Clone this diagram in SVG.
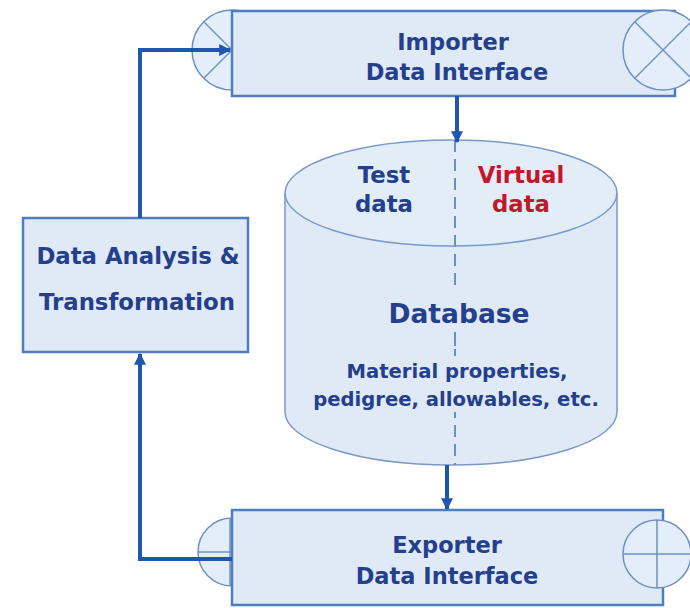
<svg xmlns="http://www.w3.org/2000/svg" width="690" height="608" viewBox="0 0 690 608">
<defs>
<style>
.box{fill:#dfeaf6;stroke:#4f7ec0;stroke-width:2.5}
.port{fill:#e4eefa;stroke:#6f8fc2;stroke-width:1.5}
.pl{stroke:#6f8fc2;stroke-width:1.5;fill:none}
.conn{stroke:#1f56b0;stroke-width:4;fill:none}
.t{font-family:"DejaVu Sans",Verdana,sans-serif;font-weight:bold;fill:#243f8c;text-anchor:middle}
.red{fill:#c4162a}
</style>
<marker id="ah" viewBox="0 0 10 10" refX="9" refY="5" markerWidth="3" markerHeight="3" orient="auto" markerUnits="strokeWidth">
<path d="M0,0 L10,5 L0,10 z" fill="#1f56b0"/>
</marker>
</defs>
<rect width="690" height="608" fill="#ffffff"/>

<g id="analysis">
<rect class="box" x="23" y="218" width="225" height="134"/>
<text class="t" x="138" y="264" font-size="22.8">Data Analysis &amp;</text>
<text class="t" x="137" y="310" font-size="22.8">Transformation</text>
</g>

<g id="importer">
<circle class="port" cx="232" cy="50" r="40"/>
<line class="pl" x1="232" y1="50" x2="204" y2="22"/>
<line class="pl" x1="232" y1="50" x2="204" y2="78"/>
<rect class="box" x="232" y="11" width="443" height="85"/>
<circle class="port" cx="663" cy="50" r="40"/>
<line class="pl" x1="635" y1="22" x2="691" y2="78"/>
<line class="pl" x1="635" y1="78" x2="691" y2="22"/>
<text class="t" x="453" y="50" font-size="22.5">Importer</text>
<text class="t" x="457" y="80" font-size="22.5">Data Interface</text>
</g>

<g id="exporter">
<circle class="port" cx="232" cy="552" r="34"/>
<line class="pl" x1="198" y1="552" x2="266" y2="552"/>
<line class="pl" x1="230" y1="518" x2="230" y2="586" stroke-width="4"/>
<rect class="box" x="232" y="510" width="431" height="95"/>
<circle class="port" cx="657" cy="554" r="34"/>
<line class="pl" x1="623" y1="554" x2="691" y2="554"/>
<line class="pl" x1="657" y1="520" x2="657" y2="588"/>
<text class="t" x="447" y="553" font-size="22.5">Exporter</text>
<text class="t" x="447" y="584" font-size="22.5">Data Interface</text>
</g>

<g id="database">
<path d="M285,193 L285,412 A166,53 0 0 0 617,412 L617,193" fill="#dfeaf6" stroke="#7a98c8" stroke-width="1.5"/>
<ellipse cx="451" cy="193" rx="166" ry="53" fill="#e2edf8" stroke="#7a98c8" stroke-width="1.5"/>
<line x1="455" y1="140" x2="455" y2="465" stroke="#6f8fc2" stroke-width="2" stroke-dasharray="12,7"/>
<rect x="370" y="292" width="170" height="40" fill="#dfeaf6"/>
<rect x="310" y="356" width="295" height="56" fill="#dfeaf6"/>
<text class="t" x="384" y="183" font-size="22.8">Test</text>
<text class="t" x="384" y="212" font-size="22.8">data</text>
<text class="t red" x="521" y="183" font-size="22.8">Virtual</text>
<text class="t red" x="521" y="212" font-size="22.8">data</text>
<text class="t" x="459" y="323" font-size="26.5">Database</text>
<line x1="455" y1="336" x2="455" y2="346" stroke="#6f8fc2" stroke-width="2"/>
<text class="t" x="457" y="378" font-size="19.6">Material properties,</text>
<text class="t" x="456" y="406" font-size="19.6">pedigree, allowables, etc.</text>
</g>

<g id="connectors">
<path class="conn" d="M140,218 L140,50 L230,50" marker-end="url(#ah)"/>
<path class="conn" d="M232,559 L140,559 L140,354" marker-end="url(#ah)"/>
<path class="conn" d="M457,96 L457,142" marker-end="url(#ah)" stroke-width="3"/>
<path class="conn" d="M447,465 L447,509" marker-end="url(#ah)"/>
</g>
</svg>
